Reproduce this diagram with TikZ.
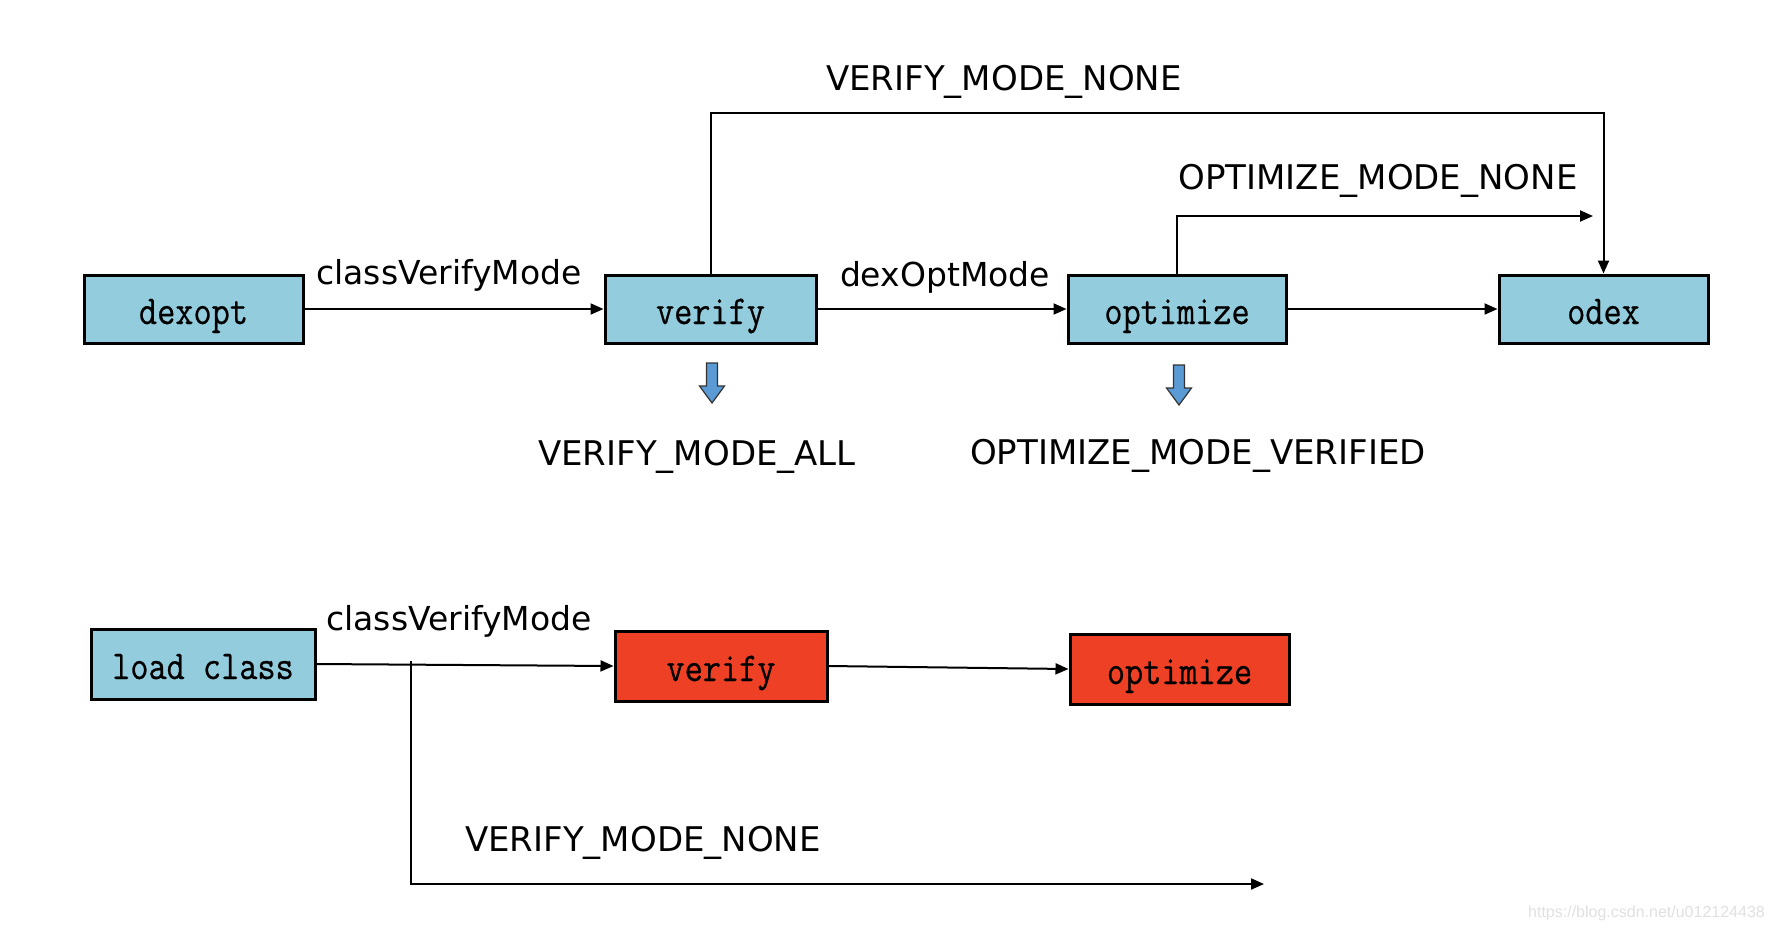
\documentclass[tikz,border=0pt]{standalone}
\usepackage{fontspec}
\setmainfont{DejaVu Sans}
\newfontfamily\wmfont{Liberation Sans}
\newfontfamily\boxfont[FakeStretch=0.86, FakeBold=0.6]{Latin Modern Mono}
\usetikzlibrary{arrows.meta}
\definecolor{boxblue}{HTML}{93CDDD}
\definecolor{boxred}{HTML}{EE4024}
\definecolor{arrblue}{HTML}{5B9BD5}
\tikzset{
  box/.style={draw=black, line width=3pt, inner sep=0pt, minimum height=68pt,
    text height=30pt, text depth=0pt,
    font=\boxfont\fontsize{41}{44}\selectfont},
  bbox/.style={box, fill=boxblue},
  rbox/.style={box, fill=boxred},
  arr/.style={line width=2pt, -{Triangle[length=13pt,width=11pt]}},
  lbl/.style={anchor=base, inner sep=0pt, font=\fontsize{34}{40}\selectfont},
  slbl/.style={lbl, font=\fontsize{33}{40}\selectfont},
  downarrow/.pic={
    \draw[fill=arrblue, draw=black!80, line width=1.2pt]
      (-5.5,0) -- (5.5,0) -- (5.5,23) -- (12.5,23) -- (0,40) -- (-12.5,23) -- (-5.5,23) -- cycle;
  }
}
\begin{document}
\begin{tikzpicture}[x=1pt,y=-1pt]
\useasboundingbox (0,0) rectangle (1774,930);
% top row
\node[bbox, minimum width=219pt] (dexopt) at (193.5,309) {dexopt};
\node[bbox, minimum width=211pt] (verify) at (710.5,309) {verify};
\node[bbox, minimum width=218pt] (optimize) at (1177,309) {optimize};
\node[bbox, minimum width=209pt] (odex) at (1603.5,309) {odex};
\draw[arr] (dexopt) -- (verify);
\draw[arr] (verify) -- (optimize);
\draw[arr] (optimize) -- (odex);
\draw[arr] (verify.north) -- (verify.north |- 0,113) -| (odex.north);
\coordinate (optend) at (1593,216);
\draw[arr] (optimize.north) |- (optend);
\node[slbl] (l1) at (449,284) {classVerifyMode};
\node[slbl] (l2) at (945,286) {dexOptMode};
\node[lbl] (l3) at (1004,90.5) {VERIFY\_MODE\_NONE};
\node[lbl] (l4) at (1378,189) {OPTIMIZE\_MODE\_NONE};
\pic at (712,363) {downarrow};
\pic at (1179,365) {downarrow};
\node[lbl] (l5) at (697,465) {VERIFY\_MODE\_ALL};
\node[lbl] (l6) at (1198,464) {OPTIMIZE\_MODE\_VERIFIED};
% bottom row
\node[bbox, minimum width=224pt, minimum height=70pt] (load) at (203,664) {load class};
\node[rbox, minimum width=212pt, minimum height=70pt] (verify2) at (721,666) {verify};
\node[rbox, minimum width=219pt, minimum height=70pt] (optimize2) at (1179.5,669) {optimize};
\draw[arr] (load.east) -- (verify2.west);
\draw[arr] (verify2.east) -- (optimize2.west);
\coordinate (br) at (411,661);
\coordinate (brend) at (1264,884);
\draw[arr] (br) |- (brend);
\node[slbl] (l7) at (459,630) {classVerifyMode};
\node[lbl] (l8) at (643,851) {VERIFY\_MODE\_NONE};
\node[anchor=base east, inner sep=0pt, text=black!12, font=\wmfont\fontsize{16}{18}\selectfont] (wm) at (1765,917) {https://blog.csdn.net/u012124438};
\end{tikzpicture}
\end{document}
